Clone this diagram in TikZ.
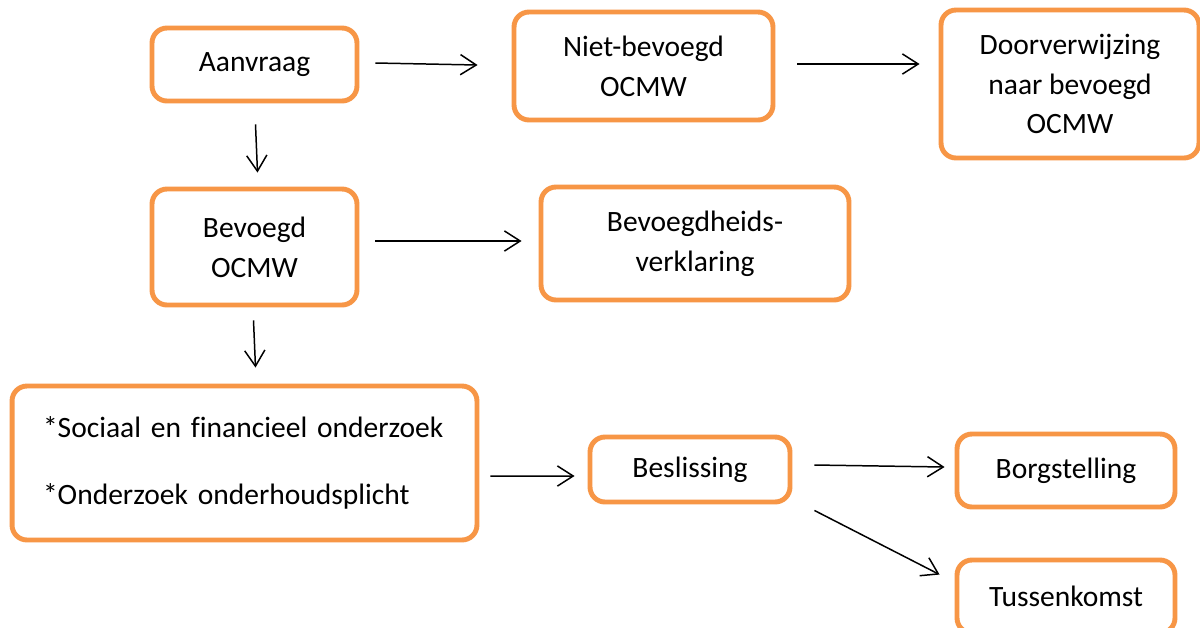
\documentclass[tikz,border=0pt]{standalone}
\usepackage{fontspec}
\setmainfont{Carlito}[Ligatures=NoCommon]
\usepackage{tikz}
\usetikzlibrary{arrows.meta}

\definecolor{boxorange}{HTML}{F79646}

\tikzset{
  box/.style={draw=boxorange, line width=2.8pt, rounded corners=8.5pt,
    fill=white, align=center, inner sep=0pt,
    font=\fontsize{16.8}{22.7}\selectfont},
}

\begin{document}
\begin{tikzpicture}[x=0.02cm, y=-0.02cm, line width=0.85pt,
    >={Straight Barb[length=9pt,width=11.5pt]}]
            \clip (0,0) rectangle (1200,627);
            \fill[white] (0,0) rectangle (1200,627);

            \node[box, minimum width=4.1cm, minimum height=1.46cm] (aanvraag) at (254.5, 64.5) {Aanvraag};
            \node[box, minimum width=5.18cm, minimum height=2.16cm] (niet) at (643.5, 66) {Niet-bevoegd\\OCMW};
            \node[box, minimum width=5.16cm, minimum height=2.96cm] (door) at (1070, 84) {Doorverwijzing\\naar bevoegd\\OCMW};
            \node[box, minimum width=4.1cm, minimum height=2.32cm] (bevoegd) at (254.5, 247) {Bevoegd\\OCMW};
            \node[box, minimum width=6.16cm, minimum height=2.26cm] (verkl) at (695, 243.5) {Bevoegdheids-\\verklaring};
            \node[box, align=left, text width=8.06cm, minimum width=9.3cm, minimum height=3.08cm] (onderzoek) at (244.5, 463)
                {*Sociaal en financieel onderzoek\\[15.3pt]*Onderzoek onderhoudsplicht};
            \node[box, minimum width=4cm, minimum height=1.3cm] (beslissing) at (690, 469.5) {Beslissing};
            \node[box, minimum width=4.36cm, minimum height=1.46cm] (borg) at (1066, 470.5) {Borgstelling};
            \node[box, minimum width=4.36cm, minimum height=1.46cm] (tussen) at (1066, 596.5) {Tussenkomst};

            \draw[->] ([shift={(16,-1.5)}]aanvraag.east) -- ([shift={(-34,-1)}]niet.west);
            \draw[->] ([shift={(22,-2)}]niet.east) -- ([shift={(-19,-20)}]door.west);
            \draw[->] ([shift={(1,21)}]aanvraag.south) -- ([shift={(3,-14)}]bevoegd.north);
            \draw[->] ([shift={(16,-6)}]bevoegd.east) -- ([shift={(-17,-2.5)}]verkl.west);
            \draw[->] ([shift={(-1,13)}]bevoegd.south) -- ([shift={(11,-16)}]onderzoek.north);
            \draw[->] ([shift={(11,13)}]onderzoek.east) -- ([shift={(-13,6.5)}]beslissing.west);
            \draw[->] ([shift={(22,-4.5)}]beslissing.east) -- ([shift={(-10,-3.5)}]borg.west);
            \draw[->] ([shift={(22,6)}]beslissing.south east) -- ([shift={(-15,17)}]tussen.north west);
\end{tikzpicture}
\end{document}
